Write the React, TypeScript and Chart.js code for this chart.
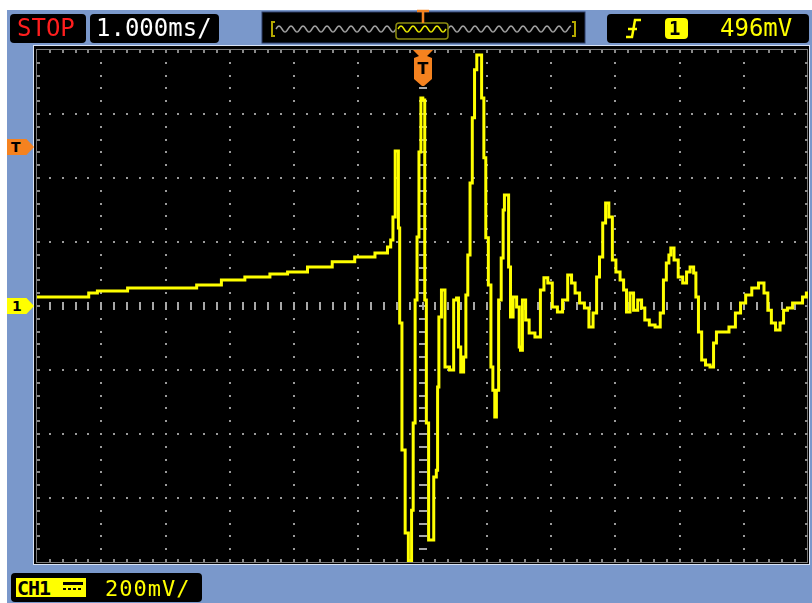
import React, { useEffect, useRef } from "react";
import { Chart, registerables } from "chart.js";

Chart.register(...registerables);

// ---- data (time in ms from trigger, voltage in mV) ----
const timeMs = [
  -6.0, -5.21, -5.18, -4.94, -4.24, -3.77, -3.26, -3.0, -2.53, -2.22, -1.98, -1.6, -1.21, -0.9, -0.58,
  -0.51, -0.48, -0.44, -0.41, -0.38, -0.37, -0.34, -0.3, -0.24, -0.2, -0.18, -0.16, -0.13, -0.1, -0.07,
  -0.04, -0.01, 0.02, 0.05, 0.07, 0.12, 0.15, 0.2, 0.23, 0.24, 0.27, 0.32, 0.38, 0.46, 0.51, 0.55, 0.57,
  0.62, 0.66, 0.69, 0.72, 0.76, 0.79, 0.83, 0.86, 0.9, 0.94, 0.97, 1.0, 1.05, 1.08, 1.11, 1.14, 1.16,
  1.21, 1.24, 1.27, 1.28, 1.32, 1.36, 1.38, 1.44, 1.49, 1.52, 1.53, 1.58, 1.63, 1.69, 1.81, 1.86, 1.92,
  1.98, 2.06, 2.14, 2.22, 2.3, 2.34, 2.41, 2.48, 2.56, 2.62, 2.69, 2.73, 2.78, 2.83, 2.87, 2.93, 2.98,
  3.04, 3.11, 3.15, 3.2, 3.26, 3.31, 3.39, 3.43, 3.49, 3.57, 3.67, 3.73, 3.77, 3.82, 3.85, 3.88, 3.95,
  4.01, 4.09, 4.13, 4.2, 4.24, 4.27, 4.32, 4.37, 4.44, 4.51, 4.55, 4.6, 4.71, 4.83, 4.91, 4.99, 5.07,
  5.18, 5.28, 5.35, 5.4, 5.46, 5.53, 5.6, 5.64, 5.72, 5.8, 5.88, 5.95, 6.0,
];
const voltageMv = [
  28, 28, 41, 47, 56, 56, 66, 81, 91, 100, 106, 122, 138, 153, 166,
  184, 206, 278, 484, 484, 244, -53, -450, -709, -819, -819, -638, -366, 19, 216,
  481, 650, 644, 19, -366, -731, -731, -534, -513, -253, -34, 50, -191, -200, 19, 25, -128,
  -206, -159, 34, 159, 384, 588, 738, 784, 784, 650, 463, 213, 66, -191, -263, -347, -263,
  19, 150, 300, 347, 347, 122, -34, 28, -3, -128, -138, 19, -44, -84, -97, 50, 88,
  72, -3, -19, 19, 97, 72, 41, 9, -6, -66, -22, 91, 153, 259, 322, 278, 144,
  106, 81, 50, -19, 41, -13, 19, -6, -44, -59, -66, -22, 81, 134, 159, 181, 144,
  91, 72, 106, 122, 103, 28, -81, -169, -184, -191, -116, -81, -81, -66, -22, 9, 34,
  56, 72, 41, -13, -53, -75, -53, -13, -6, 9, 9, 28, 41,
];

// grid: 12 horizontal divisions (1 ms/div), 8 vertical divisions (200 mV/div)
const xMajorTicksMs = [-6, -5, -4, -3, -2, -1, 0, 1, 2, 3, 4, 5, 6];
const yMajorTicksMv = [-800, -600, -400, -200, 0, 200, 400, 600, 800];
const minorPerDiv = 5;

const runState = "STOP";
const timebaseLabel = "1.000ms/";
const triggerLevelLabel = "496mV";
const triggerLevelMv = 496;
const channelLabel = "CH1";
const channelScaleLabel = "200mV/";

const BLUE = "#7a98cb";
const ORANGE = "#f5821f";
const YELLOW = "#ffff00";

const scopePlugin = {
  id: "scopeScreen",
  beforeDraw(chart: any) {
    const { ctx, chartArea: a } = chart;
    ctx.save();
    ctx.fillStyle = "#d8e2f4";
    ctx.fillRect(a.left - 4, a.top - 5, a.right - a.left + 6, a.bottom - a.top + 8);
    ctx.fillStyle = "#000";
    ctx.fillRect(a.left - 3, a.top - 4, a.right - a.left + 4, a.bottom - a.top + 6);
    ctx.strokeStyle = "#7a7a7a";
    ctx.lineWidth = 1;
    ctx.strokeRect(a.left - 0.5, a.top - 0.5, a.right - a.left, a.bottom - a.top + 1);
    ctx.restore();
  },
  beforeDatasetsDraw(chart: any) {
    const { ctx, chartArea: a, scales } = chart;
    const xs = scales.x;
    const ys = scales.y;
    ctx.save();
    const dx = (xMajorTicksMs[1] - xMajorTicksMs[0]) / minorPerDiv;
    const dy = (yMajorTicksMv[1] - yMajorTicksMv[0]) / minorPerDiv;
    const xMinor: number[] = [];
    for (let v = xMajorTicksMs[0]; v <= xMajorTicksMs[xMajorTicksMs.length - 1] + 1e-9; v += dx) xMinor.push(v);
    const yMinor: number[] = [];
    for (let v = yMajorTicksMv[0]; v <= yMajorTicksMv[yMajorTicksMv.length - 1] + 1e-9; v += dy) yMinor.push(v);

    ctx.fillStyle = "#9a9a9a";
    xMajorTicksMs.slice(1, -1).forEach((xv) => {
      if (xv === 0) return;
      const px = Math.round(xs.getPixelForValue(xv));
      yMinor.slice(1, -1).forEach((yv) => {
        const py = Math.round(ys.getPixelForValue(yv));
        ctx.fillRect(px - 1, py - 1, 2, 2);
      });
    });
    yMajorTicksMv.slice(1, -1).forEach((yv) => {
      if (yv === 0) return;
      const py = Math.round(ys.getPixelForValue(yv));
      xMinor.slice(1, -1).forEach((xv) => {
        const px = Math.round(xs.getPixelForValue(xv));
        ctx.fillRect(px - 1, py - 1, 2, 2);
      });
    });
    ctx.fillStyle = "#a8a8a8";
    const cx = Math.round(xs.getPixelForValue(0));
    const cy = Math.round(ys.getPixelForValue(0));
    yMinor.slice(1, -1).forEach((yv) => {
      const py = Math.round(ys.getPixelForValue(yv));
      ctx.fillRect(cx - 4, py - 1, 8, 2);
    });
    xMinor.slice(1, -1).forEach((xv) => {
      const px = Math.round(xs.getPixelForValue(xv));
      ctx.fillRect(px - 1, cy - 4, 2, 8);
    });
    ctx.fillStyle = "#8a8a8a";
    xMinor.slice(1, -1).forEach((xv) => {
      const px = Math.round(xs.getPixelForValue(xv));
      ctx.fillRect(px - 1, a.top, 2, 3);
      ctx.fillRect(px - 1, a.bottom - 3, 2, 3);
    });
    yMinor.slice(1, -1).forEach((yv) => {
      const py = Math.round(ys.getPixelForValue(yv));
      ctx.fillRect(a.left, py - 1, 3, 2);
      ctx.fillRect(a.right - 3, py - 1, 3, 2);
    });
    ctx.restore();
  },
};

function wavePath(x0: number, x1: number, yc: number, amp: number, period: number) {
  let d = "";
  for (let x = x0; x <= x1; x += 1) {
    const y = yc - amp * Math.sin(((x - x0) / period) * Math.PI * 2);
    d += (x === x0 ? "M" : "L") + x + " " + y.toFixed(2) + " ";
  }
  return d;
}

const monoFont = "'DejaVu Sans Mono', 'Liberation Mono', monospace";

export default function App() {
  const canvasRef = useRef<HTMLCanvasElement | null>(null);
  const markerRef = useRef<HTMLDivElement | null>(null);

  useEffect(() => {
    if (!canvasRef.current) return;
    const chart = new Chart(canvasRef.current, {
      type: "line",
      data: {
        datasets: [
          {
            data: timeMs.map((t, i) => ({ x: t, y: voltageMv[i] })),
            borderColor: YELLOW,
            borderWidth: 3,
            pointRadius: 0,
            stepped: "middle",
            fill: false,
          },
        ],
      },
      options: {
        responsive: false,
        animation: false,
        devicePixelRatio: 1,
        layout: { padding: { left: 37, top: 50, right: 4, bottom: 41 } },
        plugins: { legend: { display: false }, tooltip: { enabled: false } },
        scales: {
          x: { type: "linear", min: xMajorTicksMs[0], max: xMajorTicksMs[xMajorTicksMs.length - 1], display: false },
          y: { type: "linear", min: yMajorTicksMv[0], max: yMajorTicksMv[yMajorTicksMv.length - 1], display: false },
        },
      },
      plugins: [scopePlugin],
    });
    if (markerRef.current) {
      const py = chart.scales.y.getPixelForValue(triggerLevelMv);
      markerRef.current.style.top = Math.round(py - 8) + "px";
    }
    return () => chart.destroy();
  }, []);

  const box: React.CSSProperties = {
    position: "absolute",
    background: "#000",
    borderRadius: 4,
    boxSizing: "border-box",
  };
  const txt: React.CSSProperties = {
    position: "absolute",
    fontFamily: monoFont,
    whiteSpace: "pre",
    lineHeight: 1,
  };
  const arrowClip = "polygon(0 0, 72% 0, 100% 50%, 72% 100%, 0 100%)";

  return (
    <div style={{ position: "absolute", left: 0, top: 0, width: 812, height: 603, background: "#fff", overflow: "hidden" }}>
      <div style={{ position: "absolute", left: 7, top: 10, width: 805, height: 593, background: BLUE }} />
      <canvas ref={canvasRef} width={812} height={603} style={{ position: "absolute", left: 0, top: 0, width: 812, height: 603 }} />

      <div style={{ ...box, left: 10, top: 14, width: 76, height: 29 }} />
      <div style={{ ...txt, left: 17, top: 16, fontSize: 24, color: "#ff1e1e" }}>{runState}</div>

      <div style={{ ...box, left: 90, top: 14, width: 129, height: 29 }} />
      <div style={{ ...txt, left: 96, top: 16, fontSize: 24, color: "#ffffff" }}>{timebaseLabel}</div>

      <svg style={{ position: "absolute", left: 0, top: 0 }} width={812} height={50}>
        <rect x={262} y={12} width={323} height={31} fill="#000" stroke="#2a3a66" strokeWidth={1} />
        <path d="M275 22 L272 22 L272 36 L275 36" stroke="#b4a800" strokeWidth={2} fill="none" />
        <path d="M572 22 L575 22 L575 36 L572 36" stroke="#b4a800" strokeWidth={2} fill="none" />
        <path d={wavePath(276, 396, 29, 3, 12)} stroke="#a0a0a0" strokeWidth={1.5} fill="none" />
        <path d={wavePath(448, 571, 29, 3, 12)} stroke="#a0a0a0" strokeWidth={1.5} fill="none" />
        <rect x={396} y={23} width={52} height={16} rx={3} fill="#000" stroke="#8c8c10" strokeWidth={1.5} />
        <path d={wavePath(398, 446, 29, 3, 12)} stroke="#e8e800" strokeWidth={1.5} fill="none" />
        <path d="M417 11 L429 11 M423 11 L423 23" stroke={ORANGE} strokeWidth={2.5} fill="none" />
      </svg>

      <div style={{ ...box, left: 607, top: 14, width: 202, height: 29 }} />
      <svg style={{ position: "absolute", left: 0, top: 0 }} width={812} height={50}>
        <path d="M626 37 L632 37 L635 20 L641 20 M628 29 L637 29" stroke="#ffff00" strokeWidth={2.5} fill="none" />
        <rect x={665} y={18} width={23} height={21} rx={4} fill="#ffff00" />
      </svg>
      <div style={{ ...txt, left: 669, top: 19, fontSize: 19, fontWeight: "bold", color: "#000" }}>1</div>
      <div style={{ ...txt, left: 720, top: 16, fontSize: 24, color: YELLOW }}>{triggerLevelLabel}</div>

      <div style={{ ...box, left: 11, top: 573, width: 191, height: 29 }} />
      <div style={{ position: "absolute", left: 16, top: 578, width: 70, height: 19, background: YELLOW }} />
      <div style={{ ...txt, left: 17, top: 578, fontSize: 20, fontWeight: "bold", color: "#000", letterSpacing: -1 }}>{channelLabel}</div>
      <svg style={{ position: "absolute", left: 0, top: 560 }} width={120} height={43}>
        <rect x={63} y={22} width={20} height={3} fill="#000" />
        <path d="M63 29 L83 29" stroke="#000" strokeWidth={2} strokeDasharray="3 2" />
      </svg>
      <div style={{ ...txt, left: 105, top: 578, fontSize: 22, color: YELLOW, letterSpacing: 1 }}>{channelScaleLabel}</div>

      <div
        ref={markerRef}
        style={{ position: "absolute", left: 7, top: 138, width: 27, height: 16, background: ORANGE, clipPath: arrowClip }}
      >
        <span style={{ position: "absolute", left: 4, top: 0, fontFamily: "'DejaVu Sans', sans-serif", fontWeight: "bold", fontSize: 14, lineHeight: "16px", color: "#000" }}>T</span>
      </div>
      <div style={{ position: "absolute", left: 7, top: 298, width: 27, height: 16, background: YELLOW, clipPath: arrowClip }}>
        <span style={{ position: "absolute", left: 5, top: 0, fontFamily: "'DejaVu Sans', sans-serif", fontWeight: "bold", fontSize: 14, lineHeight: "16px", color: "#000" }}>1</span>
      </div>

      <svg style={{ position: "absolute", left: 0, top: 0 }} width={812} height={100}>
        <polygon points="413,50 433,50 427,56 432,58 432,79 424,86 422,86 414,79 414,58 419,56" fill={ORANGE} />
      </svg>
      <div style={{ position: "absolute", left: 414, top: 60, width: 18, textAlign: "center", fontFamily: "'DejaVu Sans', sans-serif", fontWeight: "bold", fontSize: 16, lineHeight: "18px", color: "#000" }}>T</div>
    </div>
  );
}
